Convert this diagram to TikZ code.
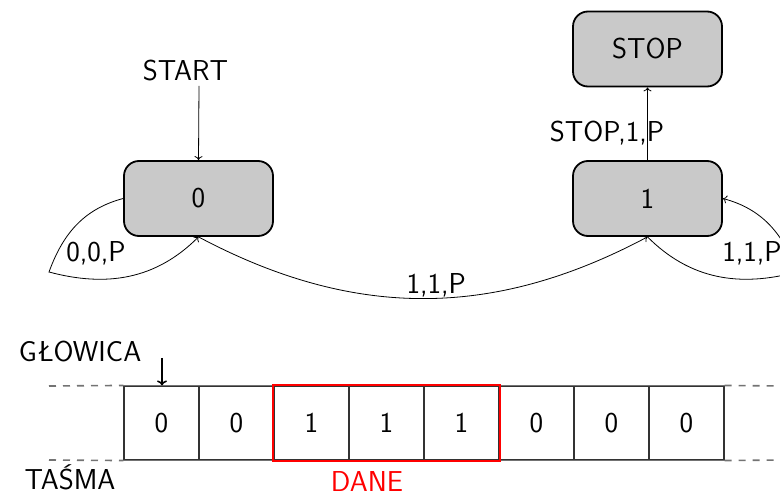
\documentclass[tikz,border=0pt]{standalone}
\usetikzlibrary{arrows.meta}
\begin{document}
\begin{tikzpicture}[x=1pt,y=-1pt,
  every node/.style={font=\sffamily\fontsize{28.8}{34}\selectfont},
  state/.style={draw,line width=1.8pt,fill=black!21,rounded corners=15pt,
    minimum width=149pt,minimum height=75pt,inner sep=0pt},
  cell/.style={draw=black!80,line width=1.1pt,minimum width=75pt,minimum height=74pt,inner sep=0pt},
  tapeline/.style={draw=black!55,line width=1.6pt},
  tapedash/.style={tapeline,dash pattern=on 7pt off 7pt},
  conn/.style={line width=0.8pt,-{To[length=4pt,width=8pt]}},
  lbl/.style={inner sep=1pt}]
\useasboundingbox (0,0) rectangle (780,497);
\clip (0,0) rectangle (780,497);

% states
\node[state] (s0) at (198.5,198.5) {0};
\node[state] (s1) at (647.5,198.5) {1};
\node[state] (stop) at (647.5,49) {STOP};

% start marker
\node (start) at (185.5,71) {START};
\coordinate (startend) at (199,86);
\draw[conn] (startend) -- (s0.north);

% transitions
\coordinate (c0) at (49,272);
\coordinate (c1) at (797,272);
\draw[conn] (s0.west) to[out=195,in=70] (c0) to[out=-15,in=-135] (s0.south);
\node[lbl] at (96,253) {0,0,P};
\draw[conn] (s0.south) to[out=-28,in=-152] node[pos=0.53,above,lbl] {1,1,P} (s1.south);
\draw[conn] (s1.south) to[out=-45,in=195] (c1) to[out=110,in=-15] (s1.east);
\node[lbl] at (752,253) {1,1,P};
\draw[conn] (s1.north) -- (stop.south);
\node[lbl] at (607,133) {STOP,1,P};

% tape cells
\foreach \v [count=\i from 0] in {0,0,1,1,1,0,0,0}
  \node[cell] (t\i) at (161.5+75*\i,423) {\v};
\draw[tapeline] (t0.north west) -- (t7.north east);
\draw[tapeline] (t0.south west) -- (t7.south east);
\coordinate (lt) at (49,386);
\coordinate (lb) at (49,460);
\coordinate (rt) at (780,386);
\coordinate (rb) at (780,460);
\draw[tapedash] (lt) -- (t0.north west);
\draw[tapedash] (lb) -- (t0.south west);
\draw[tapedash] (t7.north east) -- (rt);
\draw[tapedash] (t7.south east) -- (rb);

% data window
\draw[red,line width=2pt] (t2.north west) -- (t4.north east) -- (t4.south east)
  -- (t2.south west) -- cycle;
\node[red] (dane) at (367,482) {DANE};

% head and tape labels
\node (head) at (80,352) {GŁOWICA};
\coordinate (headtop) at (162,358);
\draw[line width=1.5pt,-{To[length=5pt,width=10pt]}] (headtop) -- (t0.north -| headtop);
\node (tape) at (70,477) {TAŚMA};
\end{tikzpicture}
\end{document}
